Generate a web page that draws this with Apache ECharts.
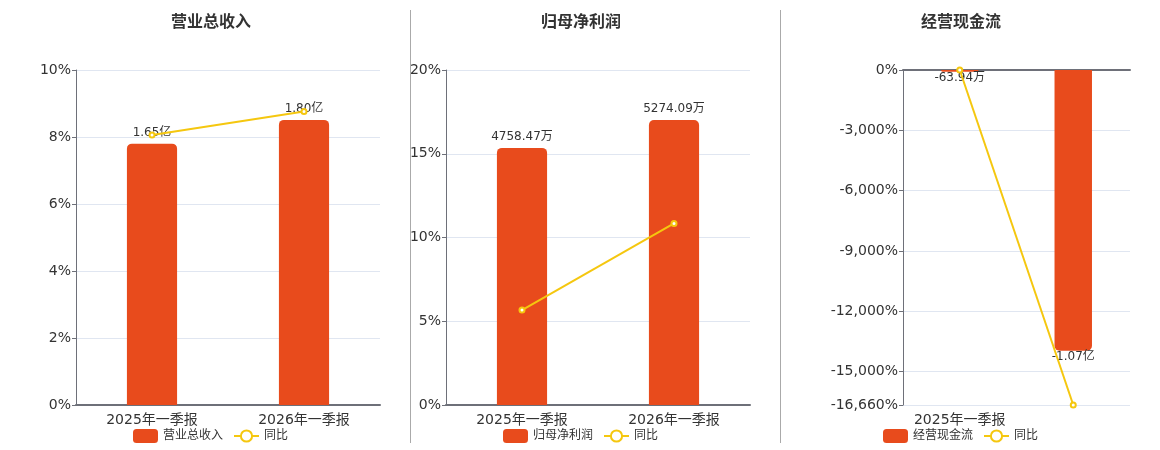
<!DOCTYPE html>
<html lang="zh">
<head>
    <meta charset="UTF-8">
    <title>季报对比</title>
    <style type="text/css">
        html, body {margin: 0; height: 100%; background: #ffffff;}
        #main {width: 1160px; height: 450px;}
    </style>
</head>
<body>
    <div id="main"></div>
    <script type="text/javascript" src="https://cdn.jsdelivr.net/npm/echarts@6/dist/echarts.min.js"></script>
    <script type="text/javascript">
        var barColor = '#E84B1C';
        var lineColor = '#F5C70F';

        var categories = ['2025年一季报', '2026年一季报'];

        // 金额单位: 万
        var revenue = [16500, 18000];
        var revenueYoy = [8.06, 8.76];
        var profit = [4758.47, 5274.09];
        var profitYoy = [5.67, 10.84];
        var cashFlow = [-63.94, -10700];
        var cashFlowYoy = [0, -16660];

        var titles = ['营业总收入', '归母净利润', '经营现金流'];

        function money(p) {
            var v = p.value;
            if (Math.abs(v) >= 10000) return (v / 10000).toFixed(2) + '亿';
            return v.toFixed(2) + '万';
        }
        function thousands(v) {
            return v.toLocaleString('en-US') + '%';
        }

        var font = "'DejaVu Sans', 'Noto Sans CJK SC', sans-serif";
        var gridLine = {lineStyle: {color: '#E0E6F1'}};

        function valueAxis(grid, opt) {
            var a = {
                type: 'value', gridIndex: grid,
                axisLine: {show: true, lineStyle: {color: '#6E7079'}},
                axisTick: {show: true, length: 4},
                splitLine: gridLine
            };
            for (var k in opt) a[k] = opt[k];
            return a;
        }
        function hiddenAxis(grid, min, max) {
            return {type: 'value', gridIndex: grid, show: false, min: min, max: max, splitLine: {show: false}};
        }
        function catAxis(grid, opt) {
            var a = {
                type: 'category', gridIndex: grid, data: categories,
                axisLine: {lineStyle: {color: '#6E7079', width: 2}},
                axisTick: {length: 5},
                axisLabel: {color: '#333', fontSize: 14, margin: 8}
            };
            for (var k in opt) a[k] = opt[k];
            return a;
        }
        function barSeries(name, x, y, data, radius, pos) {
            return {
                name: name, type: 'bar', xAxisIndex: x, yAxisIndex: y, data: data,
                barWidth: '33%',
                itemStyle: {color: barColor, borderRadius: radius},
                label: {show: true, position: pos, distance: pos === 'top' ? 5 : 0, color: '#333', fontSize: 12, formatter: money}
            };
        }
        function lineSeries(x, y, data) {
            return {
                name: '同比', type: 'line', xAxisIndex: x, yAxisIndex: y, data: data,
                symbol: 'emptyCircle', symbolSize: 5, z: 3,
                lineStyle: {color: lineColor, width: 2},
                itemStyle: {color: lineColor}
            };
        }
        function legend(left, name) {
            return {
                left: left, top: 424, itemWidth: 25, itemHeight: 14, itemGap: 10,
                textStyle: {color: '#333', fontSize: 12},
                data: [name, '同比']
            };
        }
        function title(text, left) {
            return {text: text, left: left, top: 10, textStyle: {fontSize: 16, color: '#333', fontFamily: font}};
        }

        var myChart = echarts.init(document.getElementById('main'));
        var option = {
            animation: false,
            textStyle: {fontFamily: font},
            title: [title(titles[0], 166), title(titles[1], 536), title(titles[2], 916)],
            legend: [legend(128, titles[0]), legend(498, titles[1]), legend(878, titles[2])],
            grid: [
                {left: 76, right: 780, top: 70, bottom: 45},
                {left: 446, right: 410, top: 70, bottom: 45},
                {left: 903, right: 30, top: 70, bottom: 45}
            ],
            xAxis: [
                catAxis(0, {}),
                catAxis(1, {}),
                catAxis(2, {position: 'top', axisLine: {onZero: false, lineStyle: {color: '#6E7079', width: 2}},
                    axisTick: {show: false}, axisLabel: {show: false}}),
                catAxis(2, {position: 'bottom', axisLine: {show: false, onZero: false}, axisTick: {show: false},
                    axisLabel: {color: '#333', fontSize: 14, margin: 8, interval: function (i) { return i === 0; }}})
            ],
            yAxis: [
                valueAxis(0, {min: 0, max: 10, interval: 2, axisLabel: {color: '#333', fontSize: 14, margin: 5, formatter: '{value}%'}}),
                hiddenAxis(0, 0, 21150),
                valueAxis(1, {min: 0, max: 20, interval: 5, axisLabel: {color: '#333', fontSize: 14, margin: 5, formatter: '{value}%'}}),
                hiddenAxis(1, 0, 6200),
                valueAxis(2, {min: -16660, max: 0, splitNumber: 5, axisLabel: {color: '#333', fontSize: 14, margin: 5, formatter: thousands}}),
                hiddenAxis(2, -12770, 0)
            ],
            series: [
                barSeries(titles[0], 0, 1, revenue, [5, 5, 0, 0], 'top'),
                lineSeries(0, 0, revenueYoy),
                barSeries(titles[1], 1, 3, profit, [5, 5, 0, 0], 'top'),
                lineSeries(1, 2, profitYoy),
                barSeries(titles[2], 3, 5, cashFlow, [0, 0, 5, 5], 'bottom'),
                lineSeries(3, 4, cashFlowYoy)
            ],
            graphic: [
                {type: 'line', shape: {x1: 410.5, y1: 10, x2: 410.5, y2: 443}, style: {stroke: '#AAAAAA', lineWidth: 1}},
                {type: 'line', shape: {x1: 780.5, y1: 10, x2: 780.5, y2: 443}, style: {stroke: '#AAAAAA', lineWidth: 1}}
            ]
        };
        myChart.setOption(option);
    </script>
</body>
</html>
